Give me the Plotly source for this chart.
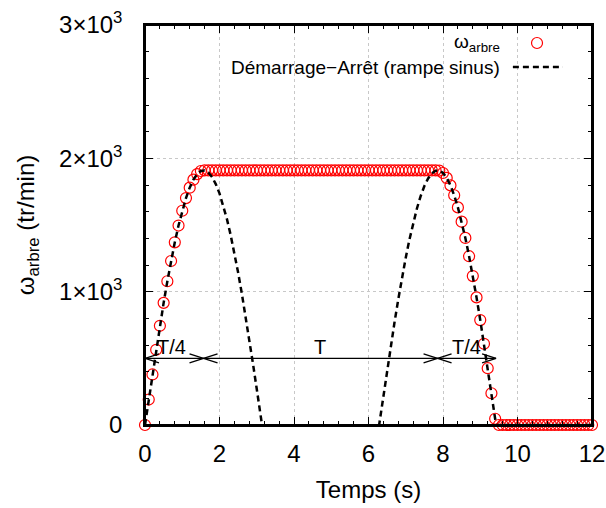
import plotly.graph_objects as go

# ---------------- data ----------------
t_points = [i / 10 for i in range(121)]  # 0.0 ... 12.0 s
omega_arbre = [
    0, 191, 379, 564, 744, 916, 1078, 1230, 1370, 1496, 1607, 1702, 1780, 1840, 1882, 1905,
    1910, 1910, 1910, 1910, 1910, 1910, 1910, 1910, 1910, 1910,
    1910, 1910, 1910, 1910, 1910, 1910, 1910, 1910, 1910, 1910,
    1910, 1910, 1910, 1910, 1910, 1910, 1910, 1910, 1910, 1910,
    1910, 1910, 1910, 1910, 1910, 1910, 1910, 1910, 1910, 1910,
    1910, 1910, 1910, 1910, 1910, 1910, 1910, 1910, 1910, 1910,
    1910, 1910, 1910, 1910, 1910, 1910, 1910, 1910, 1910, 1910,
    1910, 1910, 1910,
    1908, 1890, 1853, 1797, 1723, 1632, 1525, 1403, 1266, 1117, 957, 787, 609, 426, 238, 47,
    0, 0, 0, 0, 0, 0, 0, 0, 0, 0, 0, 0, 0, 0, 0, 0, 0, 0, 0, 0, 0, 0, 0, 0, 0, 0,
]

t_line = [i / 10 for i in range(95)] + [9.42, 12.0]
omega_sinus = [
    0, 191, 379, 564, 744, 916, 1078, 1230, 1370, 1496, 1607, 1702, 1780, 1840, 1882, 1905,
    1909, 1894, 1860, 1807, 1737, 1649, 1544, 1424, 1290, 1143, 985, 816, 640, 457, 270, 79, -111,
    None, None, None, None, None, None, None, None, None, None,
    None, None, None, None, None, None, None, None, None, None,
    None, None, None, None, None, None, None, None, None,
    -159, 32, 223, 411, 595, 773, 944, 1105, 1255, 1392, 1516, 1624, 1717, 1792, 1849, 1887, 1907,
    1908, 1890, 1853, 1797, 1723, 1632, 1525, 1403, 1266, 1117, 957, 787, 609, 426, 238, 47,
    0, 0,
]

# duration markers (s) and labels of the phase arrows
phase_bounds = [0, 1.571, 7.854, 9.425]
phase_labels = ["T/4", "T", "T/4"]
phase_label_x = [0.72, 4.71, 8.62]
arrow_level = 500

y_ticks = [0, 1000, 2000, 3000]
y_ticktext = ["0", "1×10<sup>3</sup>", "2×10<sup>3</sup>", "3×10<sup>3</sup>"]
x_ticks = [0, 2, 4, 6, 8, 10, 12]
x_range = [0, 12]
y_range = [0, 3000]

legend_names = ["ω<sub>arbre</sub>", "Démarrage−Arrêt (rampe sinus)"]

FONT = "Liberation Sans, Arial, sans-serif"

fig = go.Figure()
fig.add_trace(go.Scatter(
    x=t_points, y=omega_arbre, mode="markers", name=legend_names[0],
    marker=dict(symbol="circle-open", size=11, color="red", line=dict(width=1.2, color="red")),
    cliponaxis=False, showlegend=False,
))
fig.add_trace(go.Scatter(
    x=t_line, y=omega_sinus, mode="lines", name=legend_names[1],
    line=dict(color="black", width=2.5, dash="6px,4px"),
    connectgaps=False, showlegend=False,
))

shapes = []
# plot frame
shapes.append(dict(type="rect", xref="paper", yref="paper", x0=0, x1=1, y0=0, y1=1,
                   line=dict(color="#000000", width=2), fillcolor="rgba(0,0,0,0)", layer="above"))
# main horizontal arrow line
shapes.append(dict(type="line", xref="x", yref="y", x0=phase_bounds[0], x1=phase_bounds[-1],
                   y0=arrow_level, y1=arrow_level, line=dict(color="black", width=1.3)))
# open V arrowheads
for i, b in enumerate(phase_bounds):
    dirs = []
    if i < len(phase_bounds) - 1:
        dirs.append(1)   # head pointing left (segment goes right)
    if i > 0:
        dirs.append(-1)  # head pointing right
    for d in dirs:
        for s in (1, -1):
            shapes.append(dict(type="line", xref="x", yref="y",
                               xsizemode="pixel", xanchor=b, x0=0, x1=14 * d,
                               ysizemode="pixel", yanchor=arrow_level, y0=0, y1=4.5 * s,
                               line=dict(color="black", width=1.3)))

# manual legend keys (gnuplot style: text right, key on the right)
shapes.append(dict(type="circle", xref="paper", yref="paper",
                   xsizemode="pixel", xanchor=0.877, x0=-5.5, x1=5.5,
                   ysizemode="pixel", yanchor=0.955, y0=-5.5, y1=5.5,
                   line=dict(color="red", width=1.2)))
shapes.append(dict(type="line", xref="paper", yref="paper",
                   x0=0.823, x1=0.935, y0=0.895, y1=0.895,
                   line=dict(color="black", width=2.5, dash="6px,4px")))

annotations = []
for lbl, lx in zip(phase_labels, phase_label_x):
    annotations.append(dict(x=lx, y=arrow_level, xref="x", yref="y", text=lbl, showarrow=False,
                            yanchor="bottom", yshift=-2, font=dict(size=20, color="black", family=FONT)))
annotations.append(dict(x=0.799, y=0.955, xref="paper", yref="paper", text=legend_names[0],
                        showarrow=False, xanchor="right", yanchor="middle",
                        font=dict(size=19, color="black", family=FONT)))
annotations.append(dict(x=0.799, y=0.895, xref="paper", yref="paper", text=legend_names[1],
                        showarrow=False, xanchor="right", yanchor="middle",
                        font=dict(size=19, color="black", family=FONT)))

axis_common = dict(
    showline=True, linecolor="black", linewidth=1.5, mirror="allticks",
    ticks="inside", ticklen=8, tickwidth=1, tickcolor="black",
    zeroline=False, tickfont=dict(size=24, color="black", family=FONT),
    automargin=False,
    showgrid=True, gridcolor="#c8c8c8", gridwidth=1, griddash="dot",
)

fig.update_layout(
    xaxis=dict(
        range=x_range, tickvals=x_ticks, ticklabelstandoff=6,
        minor=dict(dtick=0.4, ticks="inside", ticklen=4, tickcolor="black", showgrid=False),
        title=dict(text="Temps (s)", font=dict(size=24, color="black", family=FONT), standoff=16),
        **axis_common,
    ),
    yaxis=dict(
        range=y_range, tickvals=y_ticks, ticktext=y_ticktext, ticklabelstandoff=16,
        minor=dict(dtick=200, ticks="inside", ticklen=4, tickcolor="black", showgrid=False),
        title=dict(text="ω<sub>arbre</sub> (tr/min)", font=dict(size=24, color="black", family=FONT), standoff=18),
        **axis_common,
    ),
    width=606, height=508,
    margin=dict(l=145, r=14, t=25, b=83),
    plot_bgcolor="white", paper_bgcolor="white",
    shapes=shapes, annotations=annotations,
    font=dict(family=FONT, color="black"),
)

fig.write_html("out.html", config={"displayModeBar": False},
               post_script="document.body.style.margin='0px';")
